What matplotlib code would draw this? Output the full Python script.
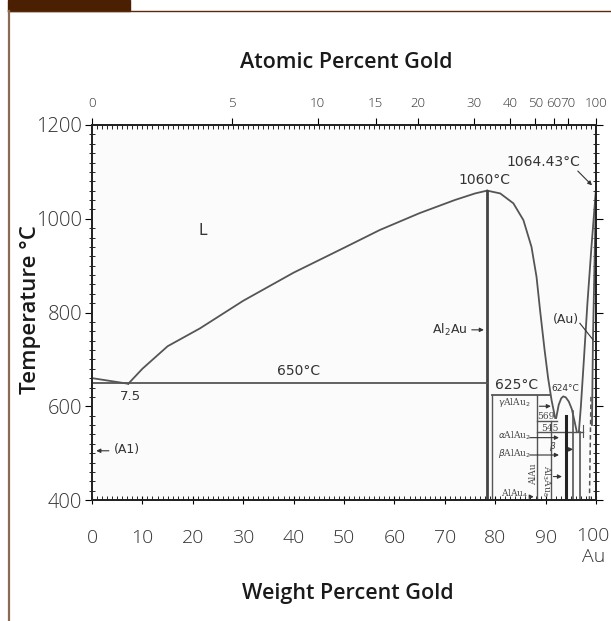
import numpy as np
import matplotlib.pyplot as plt
from matplotlib.patches import Rectangle
from matplotlib.lines import Line2D

# atomic masses, used for the atomic percent scale on top
m_au = 196.97
m_al = 26.98

# liquidus, Al side (wt% Au, deg C)
liq_al_wt = [0.0, 3.0, 7.2]
liq_al_t = [660, 655, 648]
# liquidus rising to the Al2Au maximum
liq_left_wt = [7.2, 10, 15, 21.4, 30, 40, 50, 57.1, 65, 72, 76, 78.4]
liq_left_t = [648, 680, 728, 766, 825, 885, 938, 976, 1012, 1040, 1054, 1060]
# liquidus falling from the maximum
liq_right_wt = [78.4, 81.0, 83.6, 85.6, 87.2, 88.2, 88.9, 89.8, 90.5, 91.2, 91.9]
liq_right_t = [1060, 1054, 1033, 997, 940, 876, 805, 720, 660, 612, 575]
# Au side liquidus / solidus / solvus
au_liq_wt = [100, 99.1, 98.3, 97.6, 97.0, 96.6]
au_liq_t = [1064.43, 940, 820, 700, 600, 545]
au_sol_wt = [100, 99.7, 99.4, 99.2]
au_sol_t = [1064.43, 900, 745, 560]
au_solvus_wt = [99.0, 98.7]
au_solvus_t = [620, 400]
# peritectic dome near 624 C
dome_wt = [92.1, 92.6, 93.1, 93.5, 94.0, 94.6, 95.2, 95.7, 96.2]
dome_t = [575, 603, 617, 621, 619, 610, 594, 570, 545]

# invariant temperatures
t_eut = 650
t_625 = 625
t_569 = 569
t_545 = 545
wt_al2au = 78.4

bottom_ticks = list(range(0, 101, 10))
top_ticks_at = [0, 5, 10, 15, 20, 30, 40, 50, 60, 70, 100]


def at_to_wt(a):
    a = np.asarray(a, dtype=float)
    return 100 * a * m_au / (a * m_au + (100 - a) * m_al)


line_c = '#555555'
txt_c = '#333333'

fig = plt.figure(figsize=(6.11, 6.21), dpi=100)
ax = fig.add_axes([92 / 611, 1 - 500 / 621, 504 / 611, 375 / 621])
ax.set_facecolor('#fbfbfb')
ax.set_xlim(0, 100)
ax.set_ylim(400, 1200)

kw = dict(color=line_c, lw=1.3)
ax.plot(liq_al_wt, liq_al_t, **kw)
ax.plot(liq_left_wt, liq_left_t, **kw)
ax.plot(liq_right_wt, liq_right_t, **kw)
ax.plot(au_liq_wt, au_liq_t, **kw)
ax.plot(au_sol_wt, au_sol_t, **kw)
ax.plot(au_solvus_wt, au_solvus_t, color=line_c, lw=1.1, ls=(0, (3, 2)))
ax.plot(dome_wt, dome_t, **kw)

# Al2Au compound line and invariant lines
ax.plot([wt_al2au, wt_al2au], [400, 1060], color='#444444', lw=2.0)
ax.plot([0, wt_al2au], [t_eut, t_eut], **kw)
ax.plot([79.3, 90.8], [t_625, t_625], **kw)
ax.plot([79.3, 79.3], [400, t_625], color=line_c, lw=1.0)
ax.plot([88.2, 88.2], [400, t_625], color=line_c, lw=1.0)
ax.plot([88.2, 92.2], [t_569, t_569], color=line_c, lw=1.0)
ax.plot([88.2, 97.5], [t_545, t_545], color=line_c, lw=1.0)
ax.plot([91.0, 91.0], [400, t_569], color=line_c, lw=1.0)
ax.plot([94.0, 94.0], [400, 580], color='#222222', lw=2.2)
ax.plot([95.4, 95.4], [400, 590], color=line_c, lw=1.2)
ax.plot([96.8, 96.8], [400, t_545], color=line_c, lw=1.2)
ax.plot([97.5, 97.5], [t_545 - 10, t_545 + 15], color=line_c, lw=0.8)

# small arrows of the phase labels
arr = dict(arrowstyle='-|>', color='#333333', lw=0.8, mutation_scale=6)
for y0, x0, x1 in [(600, 88.2, 91.6), (533, 86.3, 93.2), (496, 86.3, 93.2),
                   (407, 86.3, 88.2), (450, 91.0, 93.8), (508, 94.0, 96.0)]:
    ax.annotate('', xy=(x1, y0), xytext=(x0, y0), arrowprops=arr)

# text labels
ax.text(22, 975, 'L', fontsize=11, color=txt_c, ha='center', va='center')
ax.text(41, 676, '650°C', fontsize=10, color=txt_c, ha='center', va='center')
ax.text(7.6, 620, '7.5', fontsize=9.5, color=txt_c, ha='center', va='center')
ax.text(77.9, 1083, '1060°C', fontsize=10, color=txt_c, ha='center', va='center')
ax.text(89.5, 1122, '1064.43°C', fontsize=10, color=txt_c, ha='center', va='center')
ax.annotate('', xy=(99.6, 1067), xytext=(96.0, 1106),
            arrowprops=dict(arrowstyle='-|>', color='#333333', lw=0.8, mutation_scale=6))
ax.text(84.2, 645, '625°C', fontsize=10, color=txt_c, ha='center', va='center')
ax.text(93.8, 638, '624°C', fontsize=6.5, color=txt_c, ha='center', va='center')
ax.text(71.0, 763, 'Al$_2$Au', fontsize=9, color=txt_c, ha='center', va='center')
ax.annotate('', xy=(78.3, 763), xytext=(74.8, 763), arrowprops=arr)
ax.text(94.0, 784, '(Au)', fontsize=9, color=txt_c, ha='center', va='center')
ax.plot([96.8, 99.4], [777, 742], color='#333333', lw=0.8)
ax.text(6.9, 507, '(A1)', fontsize=9, color=txt_c, ha='center', va='center')
ax.annotate('', xy=(0.3, 505), xytext=(3.9, 505), arrowprops=arr)

sty = dict(fontsize=6.5, color='#444444', family='DejaVu Serif')
ax.text(83.8, 607, r'$\gamma$AlAu$_2$', ha='center', va='center', **sty)
ax.text(83.8, 536, r'$\alpha$AlAu$_2$', ha='center', va='center', **sty)
ax.text(83.8, 499, r'$\beta$AlAu$_2$', ha='center', va='center', **sty)
ax.text(83.8, 414, 'AlAu$_4$', ha='center', va='center', **sty)
ax.text(87.6, 455, 'AlAu', ha='center', va='center', rotation=90, **sty)
ax.text(90.2, 440, 'Al$_3$Au$_8$', ha='center', va='center', rotation=-90, **sty)
ax.text(90.0, 578, '569', ha='center', va='center', **sty)
ax.text(90.9, 553, '545', ha='center', va='center', **sty)
ax.text(91.5, 515, r'$\beta$', ha='center', va='center', **sty)

# bottom / left ticks; the last bottom label is drawn by hand so it stays inside
ax.set_xticks(bottom_ticks)
ax.set_xticklabels([str(v) for v in bottom_ticks[:-1]] + [''])
ax.set_xticks(np.arange(0, 101, 1), minor=True)
ax.set_yticks(np.arange(400, 1201, 200))
ax.set_yticks(np.arange(400, 1201, 20), minor=True)
ax.tick_params(axis='x', which='major', direction='inout', length=6, pad=18,
               labelsize=14, labelcolor='#333333')
ax.tick_params(axis='x', which='minor', direction='in', length=3)
ax.tick_params(axis='y', which='major', direction='out', length=5, pad=2,
               labelsize=14.5, labelcolor='#333333')
ax.tick_params(axis='y', which='minor', direction='inout', length=4,
               right=True)
ax.tick_params(axis='y', which='major', right=True)
for lab in ax.get_xticklabels() + ax.get_yticklabels():
    lab.set_fontfamily('Open Sans')
    lab.set_fontweight('light')
ax.text(99.3, 323, str(bottom_ticks[-1]), fontsize=14, color='#333333',
        family='Open Sans', fontweight='light', ha='center', va='center')
ax.text(99.6, 278, 'Au', fontsize=14, color='#333333', family='Open Sans',
        fontweight='light', ha='center', va='center')

# top axis: atomic percent
axt = ax.twiny()
axt.set_xlim(0, 100)
axt.set_xticks(at_to_wt(top_ticks_at))
axt.set_xticklabels([str(v) for v in top_ticks_at], fontsize=9.5,
                    color='#333333', family='Open Sans', fontweight='light')
axt.set_xticks(np.arange(0, 101, 1), minor=True)
axt.tick_params(axis='x', which='major', direction='out', length=5, pad=6)
axt.tick_params(axis='x', which='minor', direction='in', length=3)

for a in (ax, axt):
    for s in a.spines.values():
        s.set_linewidth(1.3)
        s.set_color('#222222')

fig.text(346 / 611, 1 - 62 / 621, 'Atomic Percent Gold', fontsize=15.5,
         fontweight='semibold', family='Open Sans', color='#1a1a1a',
         ha='center', va='center')
fig.text(348 / 611, 1 - 594 / 621, 'Weight Percent Gold', fontsize=15.5,
         fontweight='semibold', family='Open Sans', color='#1a1a1a',
         ha='center', va='center')
fig.text(30 / 611, 1 - 310 / 621, 'Temperature °C', fontsize=16,
         fontweight='semibold', family='Open Sans', color='#1a1a1a',
         ha='center', va='center', rotation=90)

# page decoration: brown tab and rules
fig.patches.append(Rectangle((8 / 611, 1 - 11 / 621), 122 / 611, 11 / 621,
                             transform=fig.transFigure, color='#4a1f02'))
fig.lines.append(Line2D([8 / 611, 1], [1 - 11 / 621, 1 - 11 / 621],
                        transform=fig.transFigure, color='#5a2a0e', lw=1.0))
fig.lines.append(Line2D([8.5 / 611, 8.5 / 611], [0, 1 - 11 / 621],
                        transform=fig.transFigure, color='#8b6a55', lw=1.6))

fig.savefig('out.png', dpi=100)
